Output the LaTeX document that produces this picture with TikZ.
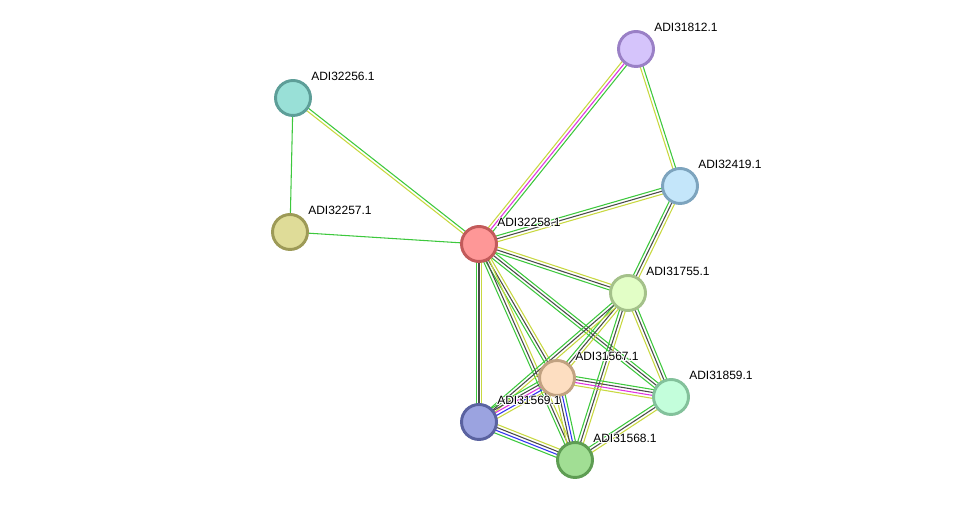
\documentclass[tikz,border=0pt]{standalone}
\usepackage{fontspec}
\setmainfont{Liberation Sans}
\usepackage{contour}
\contourlength{0.6pt}
\usetikzlibrary{calc,backgrounds}
\definecolor{eg}{HTML}{3DC83D}
\definecolor{ed}{HTML}{4A4A4A}
\definecolor{ey}{HTML}{C8D840}
\definecolor{eb}{HTML}{3333F0}
\definecolor{em}{HTML}{E033E0}
\tikzset{
  prot/.style={circle, minimum size=26.25pt, inner sep=0pt, line width=2.2pt},
  plabel/.style={anchor=base west, font=\fontsize{9pt}{10pt}\selectfont, inner sep=0pt, text=black},
  eline/.style={line width=0.8pt},
}
\newcommand\medge[3]{%
  \foreach \col/\off in {#3}{%
    \draw[eline,\col] ($(#1)!\off pt!90:(#2)$) -- ($(#2)!\off pt!-90:(#1)$);%
  }%
}
\newcommand\plab[3]{\node[plabel] at (#1,#2) {\contour{white}{#3}};}
\begin{document}
\begin{tikzpicture}[x=0.75pt,y=-0.75pt]
\useasboundingbox (0,0) rectangle (975,505);
\node[prot, fill={rgb,255:red,213;green,196;blue,251}, draw={rgb,255:red,154;green,128;blue,198}] (n31812) at (636,49) {};
\plab{654}{32}{ADI31812.1}
\node[prot, fill={rgb,255:red,153;green,224;blue,215}, draw={rgb,255:red,93;green,158;blue,152}] (n32256) at (293,98) {};
\plab{311}{81}{ADI32256.1}
\node[prot, fill={rgb,255:red,196;green,230;blue,250}, draw={rgb,255:red,125;green,164;blue,190}] (n32419) at (680,186) {};
\plab{698}{169}{ADI32419.1}
\node[prot, fill={rgb,255:red,223;green,220;blue,152}, draw={rgb,255:red,157;green,154;blue,87}] (n32257) at (290,232) {};
\plab{308}{215}{ADI32257.1}
\node[prot, fill={rgb,255:red,254;green,151;blue,151}, draw={rgb,255:red,194;green,90;blue,90}] (n32258) at (479,244) {};
\plab{497}{227}{ADI32258.1}
\node[prot, fill={rgb,255:red,226;green,254;blue,198}, draw={rgb,255:red,164;green,193;blue,138}] (n31755) at (628,293) {};
\plab{646}{276}{ADI31755.1}
\node[prot, fill={rgb,255:red,253;green,222;blue,193}, draw={rgb,255:red,193;green,162;blue,129}] (n31567) at (557,378) {};
\plab{575}{361}{ADI31567.1}
\node[prot, fill={rgb,255:red,195;green,254;blue,219}, draw={rgb,255:red,131;green,193;blue,155}] (n31859) at (671,397) {};
\plab{689}{380}{ADI31859.1}
\node[prot, fill={rgb,255:red,155;green,163;blue,224}, draw={rgb,255:red,90;green,98;blue,160}] (n31569) at (479,422) {};
\plab{497}{405}{ADI31569.1}
\node[prot, fill={rgb,255:red,161;green,222;blue,148}, draw={rgb,255:red,94;green,157;blue,83}] (n31568) at (575,460) {};
\plab{593}{443}{ADI31568.1}
\begin{scope}[on background layer]
\medge{n32256}{n32257}{eg/0}
\medge{n32256}{n32258}{eg/1.1,ey/-1.1}
\medge{n32257}{n32258}{eg/0}
\medge{n32258}{n31812}{ey/2.2,em/0,eg/-2.2}
\medge{n31812}{n32419}{eg/1.1,ey/-1.1}
\medge{n32258}{n32419}{eg/2.2,ed/0,ey/-2.2}
\medge{n32419}{n31755}{ey/2.2,ed/0,eg/-2.2}
\medge{n32258}{n31755}{ey/2.2,ed/0,eg/-2.2}
\medge{n32258}{n31859}{eg/2.2,ed/0,eg/-2.2}
\medge{n32258}{n31569}{ey/2.2,ed/0,eg/-2.2}
\medge{n32258}{n31567}{ey/2.2,ed/0,eg/-2.2}
\medge{n32258}{n31568}{ey/2.2,ed/0,eg/-2.2}
\medge{n31755}{n31567}{ey/2.2,ed/0,eg/-2.2}
\medge{n31755}{n31569}{ey/2.2,ed/0,eg/-2.2}
\medge{n31755}{n31568}{ey/2.2,ed/0,eg/-2.2}
\medge{n31755}{n31859}{eg/2.2,ed/0,ey/-2.2}
\medge{n31567}{n31569}{ey/4.4,eb/2.2,em/0,ed/-2.2,eg/-4.4}
\medge{n31567}{n31568}{eg/3.3,eb/1.1,ed/-1.1,ey/-3.3}
\medge{n31567}{n31859}{eg/3.3,ed/1.1,em/-1.1,ey/-3.3}
\medge{n31569}{n31568}{ey/3.3,ed/1.1,eb/-1.1,eg/-3.3}
\medge{n31568}{n31859}{eg/2.2,ed/0,ey/-2.2}
\end{scope}
\end{tikzpicture}
\end{document}
